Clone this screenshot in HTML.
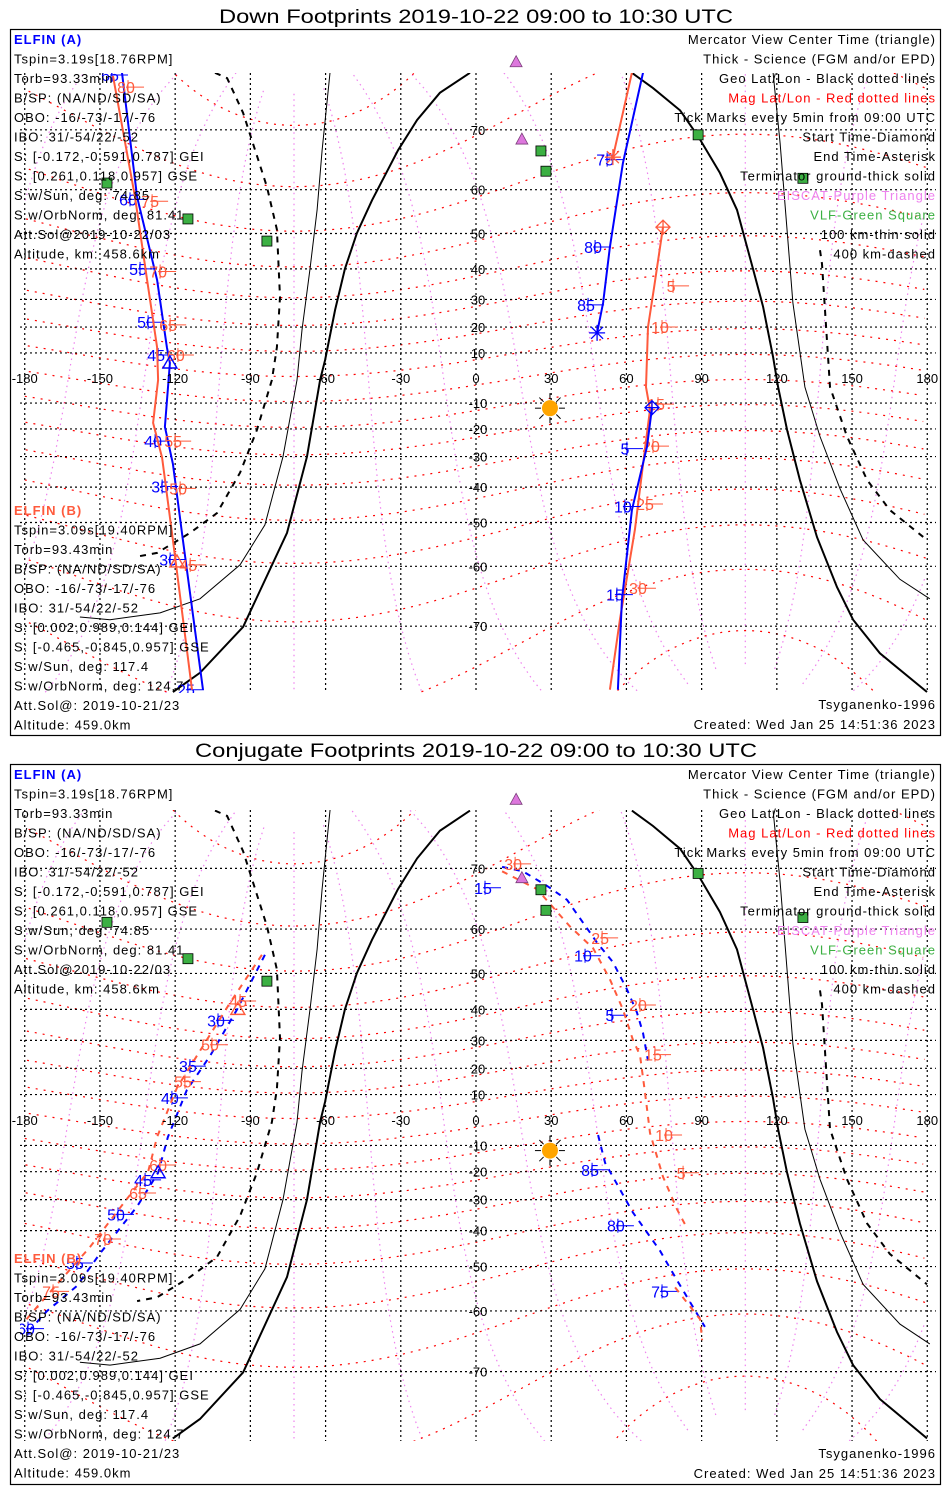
<!DOCTYPE html>
<html><head><meta charset="utf-8"><style>
html,body{margin:0;padding:0;background:#fff;overflow:hidden;width:950px;height:1500px;}
svg{display:block;font-family:"Liberation Sans",sans-serif;}
.info{letter-spacing:1px;}
</style></head><body>
<svg id="chart" width="950" height="1500" viewBox="0 0 950 1500" xmlns="http://www.w3.org/2000/svg"></svg>
<script>
// ---------- data (lon, lat in degrees) ----------
const p1BlueLon=[-141.2,-135.2,-127.2,-123.3,-122.1,-124.1,-120.9,-116.9,-108.9];
const p1BlueLat=[76.5,58.5,36.5,12.2,6,-19.2,-32.5,-54.3,-77.1];
const p1RedLon=[-144.8,-136,-131.2,-127.2,-126.8,-128.8,-125.2,-120.9,-113.3];
const p1RedLat=[76.2,58.5,36.5,12.2,-0.8,-17.7,-30.4,-54.3,-77.1];
const p1BlueRLon=[66.6,58.6,53.4,50.7,48.3];
const p1BlueRLat=[76.5,64.9,46.4,28.8,17.8];
const p1RedRLon=[62.2,54.6];
const p1RedRLat=[76.5,65.9];
const p1RedR2Lon=[74.6,71,68.6,67.8,69.4,67.4,63.4,57.4,53.4];
const p1RedR2Lat=[51.6,33.9,20,-3.6,-12.6,-27.2,-51.8,-69.1,-77.1];
const p1BlueR2Lon=[70.2,68.2,62.2,58.2,56.6];
const p1BlueR2Lat=[-11.8,-26.5,-46.7,-66.1,-77.1];

const p2BlueLon=[-84.2,-95.3,-106.1,-115.3,-122.9,-126.8,-135.2,-150,-159.2,-171.1,-177.9];
const p2BlueLat=[54.5,40,24.5,11.8,-6.7,-20.4,-32.3,-46.6,-54.7,-60,-63.5];
const p2RedLon=[-85.4,-98.1,-109.3,-119.3,-127.2,-130.8,-140,-154,-173.9,-180];
const p2RedLat=[54.5,42,27.5,12.6,-6.7,-20,-30.6,-44.8,-58.5,-62];
const p2BlueRLon=[10.4,18.7,28.3,36.3,48.3,54.6,60.2,64.2,66.6,68.6];
const p2BlueRLat=[70.2,69.6,67.5,65.3,57.2,52.8,45.8,39.1,32.5,22.8];
const p2RedRLon=[10.4,24.3,37.5,46.7,53.4,58.6,62.6,65.4,67.4,69.4,74.6,80.2,84.2];
const p2RedRLat=[69.6,67,60.5,56,48.5,40,30.2,24.8,10.8,-5.1,-21.9,-33.3,-39.3];
const p2BlueR2Lon=[48.7,51.5,62.6,73.4,80.2,91.3];
const p2BlueR2Lat=[-5.9,-16.7,-34.3,-45.8,-53.4,-63];
const p2RedR2Lon=[79.4,89.4,90.2];
const p2RedR2Lat=[-55,-61.6,-65.3];

// terminators
const termThickLLon=[-2.4,-14.4,-23.5,-31.1,-41.5,-47.5,-52.3,-56.2,-60.2,-62.2,-67.4,-75.4,-92.9,-110.1,-120.9];
const termThickLLat=[76.5,74.5,71.3,67,57.8,50.1,40,26.3,7.2,-0.8,-30,-52.6,-70.1,-75.5,-77.3];
const termThinLLon=[-58.2,-61.4,-63.4,-66.2,-69.4,-71.4,-77,-84.2,-94.1,-110.1,-126,-146,-158];
const termThinLLat=[76.6,67,55.7,40,18.9,-0.8,-30,-50.6,-59.7,-65.9,-68.1,-69.1,-68.7];
const termDashLLon=[-104.1,-99.3,-92.9,-83.4,-79.4,-78.2,-79.4,-81.4,-87.4,-94.1,-103.3,-114.1,-127.2,-135.2];
const termDashLLat=[76.5,76,72.2,60.6,51,30.8,12.2,-0.8,-20.4,-35.4,-47.5,-52.6,-57.2,-58];
const termThickRLon=[62.2,70.6,81.4,88.6,97.3,104.1,110.5,114.5,118.5,120.5,124.1,129.2,136,144,150.4,161.1,179.9];
const termThickRLat=[76.5,75,72.5,69.1,63.2,55.7,40,27.4,8.4,-3.6,-20.4,-37.8,-53.6,-63.9,-69.1,-73.4,-77.3];
const termThinRLon=[118.5,121.3,126.4,131.2,137.2,145.2,154.4,169.1,181];
const termThinRLat=[76.5,68.1,28.8,-3.6,-22.8,-40.5,-54.3,-62.5,-65.9];
const termDashRLon=[137.2,138,141.2,148,156,165.1,179.9];
const termDashRLat=[45.5,41.5,-3.6,-22.8,-37.8,-46.7,-54.3];

// stations
const vlfLon=[-147.2,-114.9,-83.4,25.9,27.9,88.6,130.4];
const vlfLat=[61.3,53.6,48,66.9,63.5,69.3,62.2];
const eiscatLon=[16,18.3];
const eiscatLat=[77.5,68.7];
const sunLon=[29.5];
const sunLat=[-12];

// tick labels (text, lon, lat)
const p1BlueLabels=['65','60','55','50','45','40','35','30','25'];
const p1BlueLabLon=[-145.2,-138,-134,-130.8,-126.8,-128,-125.2,-122,-114.9];
const p1BlueLabLat=[76.3,58,40,21.8,9.2,-24.5,-39.8,-58.6,-77.1];
const p1RedLabels=['80','75','70','65','60','55','50','45'];
const p1RedLabLon=[-138.8,-129.2,-126,-122,-118.9,-120,-118,-114];
const p1RedLabLat=[75.1,57.6,39.2,20.8,9.2,-24.5,-40.4,-59.7];
const p1BlueRLabels=['75','80','85','5','10','15'];
const p1BlueRLabLon=[52.3,47.5,44.7,60.2,59.4,56.2];
const p1BlueRLabLat=[65.5,46.4,28.1,-27.2,-45.7,-65.2];
const p1RedRLabels=['5','10','15','20','25','30'];
const p1RedRLabLon=[78.6,74.2,72.6,70.6,68.2,65.4];
const p1RedRLabLat=[34.6,20,-10.4,-26.3,-45,-64.1];
const p2BlueLabels=['30','35','40','45','50','55','60'];
const p2BlueLabLon=[-102.9,-114.1,-121.3,-132,-142.8,-159.2,-178.7];
const p2BlueLabLat=[36.6,20.8,8.7,-23,-34.9,-49.1,-63.3];
const p2RedLabels=['45','50','55','60','65','70','75'];
const p2RedLabLon=[-94.1,-105.3,-116.1,-126,-134,-148,-168.7];
const p2RedLabLat=[42.5,28.5,15,-17.5,-27.7,-42.5,-55.9];
const p2BlueRLabels=['15','10','5','85','80','75'];
const p2BlueRLabLon=[3.6,43.5,54.2,46.3,56.6,74.2];
const p2BlueRLabLat=[67.2,54.3,38.2,-19.3,-38.5,-55.9];
const p2RedRLabels=['30','25','20','15','10','5'];
const p2RedRLabLon=[15.6,50.3,65.4,71.4,75.8,82.6];
const p2RedRLabLat=[70.6,58.2,41.3,25,-5.9,-20.4];

const lonTicks=[-180,-150,-120,-90,-60,-30,0,30,60,90,120,150,180];
const lonTickLabels=['-180','-150','-120','-90','-60','-30','0','30','60','90','120','150','180'];
const latTicks=[70,60,50,40,30,20,10,-10,-20,-30,-40,-50,-60,-70];

const infoA=['Tspin=3.19s[18.76RPM]','Torb=93.33min','B/SP: (NA/ND/SD/SA)','OBO: -16/-73/-17/-76','IBO: 31/-54/22/-52','S: [-0.172,-0.591,0.787] GEI','S: [0.261,0.118,0.957] GSE','S w/Sun, deg: 74.85','S w/OrbNorm, deg: 81.41','Att.Sol@2019-10-22/03','Altitude, km: 458.6km'];
const infoB=['Tspin=3.09s[19.40RPM]','Torb=93.43min','B/SP: (NA/ND/SD/SA)','OBO: -16/-73/-17/-76','IBO: 31/-54/22/-52','S: [0.002,0.989,0.144] GEI','S: [-0.465,-0.845,0.957] GSE','S w/Sun, deg: 117.4','S w/OrbNorm, deg: 124.7','Att.Sol@: 2019-10-21/23','Altitude: 459.0km'];
const legendText=['Mercator View Center Time (triangle)','Thick - Science (FGM and/or EPD)','Geo Lat/Lon - Black dotted lines','Mag Lat/Lon - Red dotted lines','Tick Marks every 5min from 09:00 UTC','Start Time-Diamond','End Time-Asterisk','Terminator ground-thick solid','EISCAT-Purple Triangle','VLF-Green Square','100 km-thin solid','400 km-dashed'];
const legendColor=['#000','#000','#000','#ff0000','#000','#000','#000','#000','#ee82ee','#3cb043','#000','#000'];

const BLUE='#0000ff', RED='#ff5a3c';
const NS='http://www.w3.org/2000/svg';
const svg=document.getElementById('chart');
function mk(tag,attrs,parent){const e=document.createElementNS(NS,tag);for(const k in attrs)e.setAttribute(k,attrs[k]);(parent||svg).appendChild(e);return e;}
function txt(s,x,y,attrs,parent){const t=mk('text',Object.assign({x:x,y:y},attrs),parent);t.textContent=s;return t;}

function drawPanel(P){
  const X=lon=>476+lon*2.507;
  const Y=lat=>P.eq-P.k*Math.log(Math.tan(Math.PI/4+lat*Math.PI/360));
  const g=mk('g',{});
  
  
  const t=txt(P.title,476,P.titleY,{'text-anchor':'middle','font-size':'19','fill':'#000','textLength':P.titleLen,'lengthAdjust':'spacingAndGlyphs'},g);
  
  
  const box=mk('rect',{x:10.5,y:P.boxTop+0.5,width:930,height:P.boxBot-P.boxTop,fill:'none',stroke:'#000','stroke-width':1.2},g);
  
  
  const cid='clip'+P.id;
  const cp=mk('clipPath',{id:cid},g);
  mk('rect',{x:20,y:P.mapTop,width:916,height:P.mapBot-P.mapTop},cp);
  const m=mk('g',{'clip-path':'url(#'+cid+')'},g);
  
  
  const tp=(90-80.6)*Math.PI/180, lp=-72.6*Math.PI/180;
  function mag2geo(ml,mn){const a=ml*Math.PI/180,b=mn*Math.PI/180;
    let x=Math.cos(a)*Math.cos(b),y=Math.cos(a)*Math.sin(b),z=Math.sin(a);
    const x1=x*Math.cos(tp)+z*Math.sin(tp),z1=-x*Math.sin(tp)+z*Math.cos(tp);
    const x2=x1*Math.cos(lp)-y*Math.sin(lp),y2=x1*Math.sin(lp)+y*Math.cos(lp);
    return [Math.atan2(y2,x2)*180/Math.PI,Math.asin(Math.max(-1,Math.min(1,z1)))*180/Math.PI];}
  function polyGeo(pts,attrs,name){let d='',prev=null;
    pts.forEach(p=>{const x=X(p[0]),y=Y(p[1]);if(prev===null||Math.abs(p[0]-prev)>180)d+='M'+x.toFixed(1)+' '+y.toFixed(1);else d+='L'+x.toFixed(1)+' '+y.toFixed(1);prev=p[0];});
    const e=mk('path',Object.assign({d:d,fill:'none'},attrs),m);
    
    
    return e;}
  for(let mn=-180;mn<180;mn+=30){const pts=[];for(let ml=-84;ml<=84;ml+=2)pts.push(mag2geo(ml,mn));
    polyGeo(pts,{stroke:'#ee82ee','stroke-width':1.2,'stroke-dasharray':'1.5 4'},'mag-lon-line');}
  for(let ml=-80;ml<=80;ml+=10){const pts=[];for(let mn=-180;mn<=180;mn+=2)pts.push(mag2geo(ml,mn));
    pts.sort((a,b)=>a[0]-b[0]);
    polyGeo(pts,{stroke:'#ff0000','stroke-width':1.2,'stroke-dasharray':'2 6'},'mag-lat-line');}
  latTicks.forEach(la=>{const l=mk('line',{x1:20,x2:936,y1:Y(la),y2:Y(la),stroke:'#000','stroke-width':1.2,'stroke-dasharray':'2 3'},m);
    
    });
  lonTicks.forEach(lo=>{const l=mk('line',{x1:X(lo),x2:X(lo),y1:P.mapTop,y2:P.mapBot,stroke:'#000','stroke-width':1.2,'stroke-dasharray':'2 3'},m);
    
    });
  const z=(a,b)=>a.map((v,i)=>[v,b[i]]);
  polyGeo(z(termThickLLon,termThickLLat),{stroke:'#000','stroke-width':2},'terminator-ground-west');
  polyGeo(z(termThinLLon,termThinLLat),{stroke:'#000','stroke-width':1},'terminator-100km-west');
  polyGeo(z(termDashLLon,termDashLLat),{stroke:'#000','stroke-width':2,'stroke-dasharray':'6 6'},'terminator-400km-west');
  polyGeo(z(termThickRLon,termThickRLat),{stroke:'#000','stroke-width':2},'terminator-ground-east');
  polyGeo(z(termThinRLon,termThinRLat),{stroke:'#000','stroke-width':1},'terminator-100km-east');
  polyGeo(z(termDashRLon,termDashRLat),{stroke:'#000','stroke-width':2,'stroke-dasharray':'6 6'},'terminator-400km-east');
  const dash=P.dashed?{'stroke-dasharray':'6 6'}:{};
  P.tracks.forEach(tr=>{polyGeo(z(tr.lon,tr.lat),Object.assign({stroke:tr.color,'stroke-width':2},dash),tr.name);
    if(tr.start){const x=X(tr.lon[0]),y=Y(tr.lat[0]);
      const d=mk('path',{d:`M${x} ${y-7}L${x+7} ${y}L${x} ${y+7}L${x-7} ${y}Z M${x-7} ${y}H${x+7} M${x} ${y-7}V${y+7}`,fill:'none',stroke:tr.color,'stroke-width':1.3},m);
      
      }
    if(tr.end){const n=tr.lon.length-1,x=X(tr.lon[n]),y=Y(tr.lat[n]);
      const a=mk('path',{d:`M${x-8} ${y}H${x+8}M${x} ${y-8}V${y+8}M${x-6} ${y-6}L${x+6} ${y+6}M${x-6} ${y+6}L${x+6} ${y-6}`,stroke:tr.color,'stroke-width':1.3},m);
      
      }
    tr.labels.forEach((s,i)=>{const x=X(tr.labLon[i]),y=Y(tr.labLat[i]);
      const c=mk('path',{d:`M${x} ${y-7}V${y+7}M${x-2} ${y}H${x+16}`,stroke:tr.color,'stroke-width':1},m);
      
      
      const l=txt(s,x-2,y+6,{'font-size':'16','fill':tr.color,'text-anchor':'middle'},m);
      
      });
  });
  P.tri.forEach(tt=>{const x=X(tt[0]),y=Y(tt[1]);
    const e=mk('path',{d:`M${x} ${y-7}L${x+7} ${y+5}L${x-7} ${y+5}Z`,fill:'none',stroke:tt[2],'stroke-width':1.4},m);
    
    });
  vlfLon.forEach((lo,i)=>{const x=X(lo),y=Y(vlfLat[i]);
    const r=mk('rect',{x:x-5,y:y-5,width:10,height:10,fill:'#3cb043',stroke:'#000','stroke-width':0.8},g);
    
    });
  eiscatLon.forEach((lo,i)=>{const x=X(lo),y=Y(eiscatLat[i]);
    const r=mk('path',{d:`M${x} ${y-6}L${x+6} ${y+5}L${x-6} ${y+5}Z`,fill:'#dd77dd',stroke:'#7a3d7a','stroke-width':0.8},g);
    
    });
  sunLon.forEach((lo,i)=>{const x=X(lo),y=Y(sunLat[i]);
    const s=mk('g',{},g);
    
    
    for(let a=0;a<8;a++){const an=a*Math.PI/4;mk('line',{x1:x+9*Math.cos(an),y1:y+9*Math.sin(an),x2:x+15*Math.cos(an),y2:y+15*Math.sin(an),stroke:'#000','stroke-width':1},s);}
    mk('circle',{cx:x,cy:y,r:8,fill:'#ffa500'},s);});
  lonTicks.forEach((lo,i)=>{const w=txt(lonTickLabels[i],X(lo),P.eq+5,{'font-size':'13','text-anchor':'middle','fill':'#000'},g);
    
    });
  latTicks.forEach(la=>{const w=txt(String(la),478,Y(la)+5,{'font-size':'13','text-anchor':'middle','fill':'#000'},g);
    
    });
  const ia=txt('ELFIN (A)',14,P.boxTop+15,{'font-size':'13','fill':BLUE,'font-weight':'bold','class':'info'},g);
  
  
  infoA.forEach((s,i)=>{const w=txt(s,14,P.boxTop+34.5+i*19.5,{'font-size':'13','fill':'#000','class':'info'},g);
    
    });
  const ib=txt('ELFIN (B)',14,P.bTop,{'font-size':'13','fill':RED,'font-weight':'bold','class':'info'},g);
  
  
  infoB.forEach((s,i)=>{const w=txt(s,14,P.bTop+19.5+i*19.5,{'font-size':'13','fill':'#000','class':'info'},g);
    
    });
  legendText.forEach((s,i)=>{const w=txt(s,936,P.boxTop+15+i*19.5,{'font-size':'13','fill':legendColor[i],'text-anchor':'end','class':'info'},g);
    
    });
  const ts=txt('Tsyganenko-1996',936,P.boxBot-26,{'font-size':'13','text-anchor':'end','class':'info'},g);
  
  
  const cr=txt('Created: Wed Jan 25 14:51:36 2023',936,P.boxBot-6,{'font-size':'13','text-anchor':'end','class':'info'},g);
  
  
}

drawPanel({id:1,name:'down-footprints-panel',title:'Down Footprints 2019-10-22 09:00 to 10:30 UTC',titleY:23,titleLen:514,
  boxTop:29,boxBot:735,mapTop:73,mapBot:693,eq:378,k:143,bTop:515,dashed:false,
  tracks:[
    {name:'elfin-a-track-west',color:BLUE,lon:p1BlueLon,lat:p1BlueLat,labels:p1BlueLabels,labLon:p1BlueLabLon,labLat:p1BlueLabLat},
    {name:'elfin-b-track-west',color:RED,lon:p1RedLon,lat:p1RedLat,labels:p1RedLabels,labLon:p1RedLabLon,labLat:p1RedLabLat},
    {name:'elfin-a-track-east-end',color:BLUE,lon:p1BlueRLon,lat:p1BlueRLat,end:true,labels:p1BlueRLabels.slice(0,3),labLon:p1BlueRLabLon.slice(0,3),labLat:p1BlueRLabLat.slice(0,3)},
    {name:'elfin-b-track-east-end',color:RED,lon:p1RedRLon,lat:p1RedRLat,end:true,labels:[],labLon:[],labLat:[]},
    {name:'elfin-b-track-east-start',color:RED,lon:p1RedR2Lon,lat:p1RedR2Lat,start:true,labels:p1RedRLabels,labLon:p1RedRLabLon,labLat:p1RedRLabLat},
    {name:'elfin-a-track-east-start',color:BLUE,lon:p1BlueR2Lon,lat:p1BlueR2Lat,start:true,labels:p1BlueRLabels.slice(3),labLon:p1BlueRLabLon.slice(3),labLat:p1BlueRLabLat.slice(3)}
  ],
  tri:[[-122.1,6,BLUE],[-119.3,-59.1,RED]]});

drawPanel({id:2,name:'conjugate-footprints-panel',title:'Conjugate Footprints 2019-10-22 09:00 to 10:30 UTC',titleY:757,titleLen:562,
  boxTop:764,boxBot:1484,mapTop:810,mapBot:1441,eq:1120,k:145,bTop:1263,dashed:true,
  tracks:[
    {name:'elfin-a-conjugate-west',color:BLUE,lon:p2BlueLon,lat:p2BlueLat,labels:p2BlueLabels,labLon:p2BlueLabLon,labLat:p2BlueLabLat},
    {name:'elfin-b-conjugate-west',color:RED,lon:p2RedLon,lat:p2RedLat,labels:p2RedLabels,labLon:p2RedLabLon,labLat:p2RedLabLat},
    {name:'elfin-a-conjugate-east-1',color:BLUE,lon:p2BlueRLon,lat:p2BlueRLat,labels:p2BlueRLabels.slice(0,3),labLon:p2BlueRLabLon.slice(0,3),labLat:p2BlueRLabLat.slice(0,3)},
    {name:'elfin-b-conjugate-east-1',color:RED,lon:p2RedRLon,lat:p2RedRLat,labels:p2RedRLabels,labLon:p2RedRLabLon,labLat:p2RedRLabLat},
    {name:'elfin-a-conjugate-east-2',color:BLUE,lon:p2BlueR2Lon,lat:p2BlueR2Lat,labels:p2BlueRLabels.slice(3),labLon:p2BlueRLabLon.slice(3),labLat:p2BlueRLabLat.slice(3)},
    {name:'elfin-b-conjugate-east-2',color:RED,lon:p2RedR2Lon,lat:p2RedR2Lat,labels:[],labLon:[],labLat:[]}
  ],
  tri:[[-126.8,-20.4,BLUE],[-95,40,RED]]});
</script>
</body></html>
